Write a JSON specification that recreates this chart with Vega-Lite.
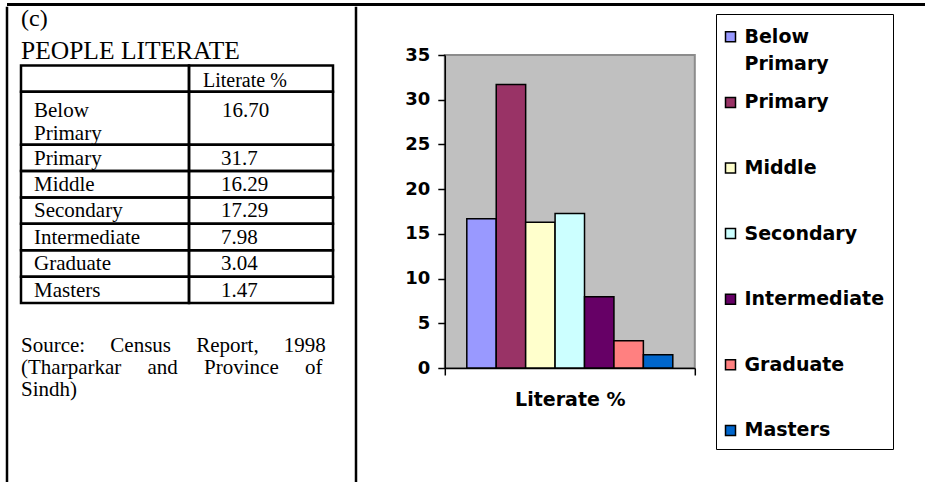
{
  "$schema": "https://vega.github.io/schema/vega-lite/v6.json",
  "background": "white",
  "padding": {"left": 5, "top": 3, "right": 0, "bottom": 0},
  "spacing": 0,
  "config": {
    "view": {"stroke": null},
    "style": {"guide-label": {"lineHeight": 27}}
  },
  "datasets": {
    "levels": [
      {"measure": "Literate %", "level": "Below Primary", "value": 16.70, "shown": "16.70", "line": 1, "lineEnd": 3},
      {"measure": "Literate %", "level": "Primary", "value": 31.7, "shown": "31.7", "line": 3, "lineEnd": 4},
      {"measure": "Literate %", "level": "Middle", "value": 16.29, "shown": "16.29", "line": 4, "lineEnd": 5},
      {"measure": "Literate %", "level": "Secondary", "value": 17.29, "shown": "17.29", "line": 5, "lineEnd": 6},
      {"measure": "Literate %", "level": "Intermediate", "value": 7.98, "shown": "7.98", "line": 6, "lineEnd": 7},
      {"measure": "Literate %", "level": "Graduate", "value": 3.04, "shown": "3.04", "line": 7, "lineEnd": 8},
      {"measure": "Literate %", "level": "Masters", "value": 1.47, "shown": "1.47", "line": 8, "lineEnd": 9}
    ]
  },
  "vconcat": [
    {
      "width": 920,
      "height": 3,
      "view": {"fill": "black", "stroke": null},
      "data": {"values": []},
      "mark": "point",
      "encoding": {}
    },
    {
      "spacing": 44.8,
      "hconcat": [
        {
          "width": 349,
          "height": 473.5,
          "resolve": {"scale": {"x": "independent"}},
          "layer": [
            {
              "data": {"values": [{}]},
              "mark": {"type": "rule", "color": "black", "strokeWidth": 2.5, "strokeCap": "square"},
              "encoding": {"x": {"datum": 0, "type": "quantitative", "scale": {"domain": [0, 1], "nice": false, "zero": false}, "axis": null}}
            },
            {
              "data": {"values": [{}]},
              "mark": {"type": "rule", "color": "black", "strokeWidth": 2.5, "strokeCap": "square"},
              "encoding": {"x": {"datum": 1, "type": "quantitative", "scale": {"domain": [0, 1], "nice": false, "zero": false}, "axis": null}}
            },
            {
              "data": {"values": [{"line": 0, "lineEnd": 1}]},
              "mark": {"type": "rect", "fillOpacity": 0, "stroke": "black", "strokeWidth": 2.5},
              "encoding": {
                "x": {"datum": "label", "type": "nominal", "scale": {"type": "band", "domain": ["label"], "range": [14, 182], "paddingInner": 0, "paddingOuter": 0}, "axis": null},
                "y": {"field": "line", "type": "quantitative", "scale": {"domain": [-2.176, 15.76], "reverse": true, "nice": false, "zero": false}, "axis": null},
                "y2": {"field": "lineEnd"}
              }
            },
            {
              "data": {"values": [{"line": 0, "lineEnd": 1}]},
              "mark": {"type": "rect", "fillOpacity": 0, "stroke": "black", "strokeWidth": 2.5},
              "encoding": {
                "x": {"datum": "value", "type": "nominal", "scale": {"type": "band", "domain": ["value"], "range": [182, 326], "paddingInner": 0, "paddingOuter": 0}, "axis": null},
                "y": {"field": "line", "type": "quantitative", "scale": {"domain": [-2.176, 15.76], "reverse": true, "nice": false, "zero": false}, "axis": null},
                "y2": {"field": "lineEnd"}
              }
            },
            {
              "data": {"name": "levels"},
              "mark": {"type": "rect", "fillOpacity": 0, "stroke": "black", "strokeWidth": 2.5},
              "encoding": {
                "x": {"datum": "label", "type": "nominal", "scale": {"type": "band", "domain": ["label"], "range": [14, 182], "paddingInner": 0, "paddingOuter": 0}, "axis": null},
                "y": {"field": "line", "type": "quantitative", "scale": {"domain": [-2.176, 15.76], "reverse": true, "nice": false, "zero": false}, "axis": null},
                "y2": {"field": "lineEnd"}
              }
            },
            {
              "data": {"name": "levels"},
              "mark": {"type": "rect", "fillOpacity": 0, "stroke": "black", "strokeWidth": 2.5},
              "encoding": {
                "x": {"datum": "value", "type": "nominal", "scale": {"type": "band", "domain": ["value"], "range": [182, 326], "paddingInner": 0, "paddingOuter": 0}, "axis": null},
                "y": {"field": "line", "type": "quantitative", "scale": {"domain": [-2.176, 15.76], "reverse": true, "nice": false, "zero": false}, "axis": null},
                "y2": {"field": "lineEnd"}
              }
            },
            {
              "data": {"values": [{"line": 0, "text": "Literate %"}]},
              "mark": {"type": "text", "font": "Liberation Serif", "fontSize": 20, "align": "left", "baseline": "alphabetic", "dx": 14, "dy": 22, "color": "black"},
              "encoding": {
                "x": {"datum": "value", "type": "nominal", "bandPosition": 0, "scale": {"type": "band", "domain": ["value"], "range": [182, 326], "paddingInner": 0, "paddingOuter": 0}, "axis": null},
                "y": {"field": "line", "type": "quantitative", "scale": {"domain": [-2.176, 15.76], "reverse": true, "nice": false, "zero": false}, "axis": null},
                "text": {"field": "text"}
              }
            },
            {
              "data": {"name": "levels"},
              "transform": [{"filter": "datum.lineEnd - datum.line <= 1"}],
              "mark": {"type": "text", "font": "Liberation Serif", "fontSize": 21, "align": "left", "baseline": "alphabetic", "dx": 13, "dy": 20, "color": "black"},
              "encoding": {
                "x": {"datum": "label", "type": "nominal", "bandPosition": 0, "scale": {"type": "band", "domain": ["label"], "range": [14, 182], "paddingInner": 0, "paddingOuter": 0}, "axis": null},
                "y": {"field": "line", "type": "quantitative", "scale": {"domain": [-2.176, 15.76], "reverse": true, "nice": false, "zero": false}, "axis": null},
                "text": {"field": "level"}
              }
            },
            {
              "data": {"name": "levels"},
              "transform": [{"filter": "datum.lineEnd - datum.line > 1"}],
              "mark": {"type": "text", "font": "Liberation Serif", "fontSize": 21, "align": "left", "baseline": "alphabetic", "dx": 13, "dy": 25, "lineBreak": " ", "lineHeight": 23, "color": "black"},
              "encoding": {
                "x": {"datum": "label", "type": "nominal", "bandPosition": 0, "scale": {"type": "band", "domain": ["label"], "range": [14, 182], "paddingInner": 0, "paddingOuter": 0}, "axis": null},
                "y": {"field": "line", "type": "quantitative", "scale": {"domain": [-2.176, 15.76], "reverse": true, "nice": false, "zero": false}, "axis": null},
                "text": {"field": "level"}
              }
            },
            {
              "data": {"name": "levels"},
              "transform": [{"filter": "datum.lineEnd - datum.line <= 1"}],
              "mark": {"type": "text", "font": "Liberation Serif", "fontSize": 21, "align": "left", "baseline": "alphabetic", "dx": 32, "dy": 20, "color": "black"},
              "encoding": {
                "x": {"datum": "value", "type": "nominal", "bandPosition": 0, "scale": {"type": "band", "domain": ["value"], "range": [182, 326], "paddingInner": 0, "paddingOuter": 0}, "axis": null},
                "y": {"field": "line", "type": "quantitative", "scale": {"domain": [-2.176, 15.76], "reverse": true, "nice": false, "zero": false}, "axis": null},
                "text": {"field": "shown"}
              }
            },
            {
              "data": {"name": "levels"},
              "transform": [{"filter": "datum.lineEnd - datum.line > 1"}],
              "mark": {"type": "text", "font": "Liberation Serif", "fontSize": 21, "align": "left", "baseline": "alphabetic", "dx": 33, "dy": 25, "color": "black"},
              "encoding": {
                "x": {"datum": "value", "type": "nominal", "bandPosition": 0, "scale": {"type": "band", "domain": ["value"], "range": [182, 326], "paddingInner": 0, "paddingOuter": 0}, "axis": null},
                "y": {"field": "line", "type": "quantitative", "scale": {"domain": [-2.176, 15.76], "reverse": true, "nice": false, "zero": false}, "axis": null},
                "text": {"field": "shown"}
              }
            },
            {
              "data": {"values": [{"line": -2, "text": "(c)"}]},
              "mark": {"type": "text", "font": "Liberation Serif", "fontSize": 24, "align": "left", "baseline": "alphabetic", "dx": 0, "dy": 13, "color": "black"},
              "encoding": {
                "x": {"datum": "label", "type": "nominal", "bandPosition": 0, "scale": {"type": "band", "domain": ["label"], "range": [14, 182], "paddingInner": 0, "paddingOuter": 0}, "axis": null},
                "y": {"field": "line", "type": "quantitative", "scale": {"domain": [-2.176, 15.76], "reverse": true, "nice": false, "zero": false}, "axis": null},
                "text": {"field": "text"}
              }
            },
            {
              "data": {"values": [{"line": -1, "text": "PEOPLE LITERATE"}]},
              "mark": {"type": "text", "font": "Liberation Serif", "fontSize": 25.5, "align": "left", "baseline": "alphabetic", "dx": 0, "dy": 19.5, "color": "black"},
              "encoding": {
                "x": {"datum": "label", "type": "nominal", "bandPosition": 0, "scale": {"type": "band", "domain": ["label"], "range": [14, 182], "paddingInner": 0, "paddingOuter": 0}, "axis": null},
                "y": {"field": "line", "type": "quantitative", "scale": {"domain": [-2.176, 15.76], "reverse": true, "nice": false, "zero": false}, "axis": null},
                "text": {"field": "text"}
              }
            },
            {
              "data": {"values": [{"line": 10, "text": "Source:\u00a0\u00a0\u00a0\u00a0\u2009Census\u00a0\u00a0\u00a0\u00a0\u2009Report,\u00a0\u00a0\u00a0\u00a0\u20091998\n(Tharparkar\u00a0\u00a0\u00a0\u00a0\u00a0and\u00a0\u00a0\u00a0\u00a0\u00a0Province\u00a0\u00a0\u00a0\u00a0\u00a0of\nSindh)"}]},
              "mark": {"type": "text", "font": "Liberation Serif", "fontSize": 21, "align": "left", "baseline": "alphabetic", "dx": 0, "dy": 23, "lineBreak": "\n", "lineHeight": 22, "color": "black"},
              "encoding": {
                "x": {"datum": "label", "type": "nominal", "bandPosition": 0, "scale": {"type": "band", "domain": ["label"], "range": [14, 182], "paddingInner": 0, "paddingOuter": 0}, "axis": null},
                "y": {"field": "line", "type": "quantitative", "scale": {"domain": [-2.176, 15.76], "reverse": true, "nice": false, "zero": false}, "axis": null},
                "text": {"field": "text"}
              }
            }
          ]
        },
        {
          "spacing": 0,
          "vconcat": [
            {
              "width": 1,
              "height": 37,
              "data": {"values": []},
              "mark": "point",
              "encoding": {}
            },
            {
              "width": 250,
              "height": 313,
              "view": {"fill": "#C0C0C0", "stroke": "#8C8C8C", "strokeWidth": 2},
              "data": {"name": "levels"},
              "mark": {"type": "bar", "stroke": "black", "strokeWidth": 1.5},
              "encoding": {
                "x": {
                  "field": "measure", "type": "nominal",
                  "scale": {"paddingInner": 0, "paddingOuter": 0},
                  "axis": {"title": null, "labelAngle": 0, "ticks": true, "tickBand": "extent", "tickSize": 7, "tickColor": "black", "tickWidth": 1.5, "labelPadding": 15.5, "labelFont": "DejaVu Sans", "labelFontWeight": "bold", "labelFontSize": 19, "labelColor": "black", "domainColor": "black", "domainWidth": 1.5}
                },
                "xOffset": {
                  "field": "level", "type": "nominal",
                  "sort": ["Below Primary", "Primary", "Middle", "Secondary", "Intermediate", "Graduate", "Masters"],
                  "scale": {"paddingInner": 0, "paddingOuter": 0.7475}
                },
                "y": {
                  "field": "value", "type": "quantitative",
                  "scale": {"domain": [0, 35], "nice": false},
                  "axis": {"title": null, "values": [0, 5, 10, 15, 20, 25, 30, 35], "grid": false, "tickSize": 7, "tickColor": "black", "tickWidth": 1.5, "domainColor": "black", "domainWidth": 1.5, "labelPadding": 8, "labelFont": "DejaVu Sans", "labelFontWeight": "bold", "labelFontSize": 18, "labelColor": "black"}
                },
                "color": {
                  "field": "level", "type": "nominal",
                  "scale": {
                    "domain": ["Below Primary", "Primary", "Middle", "Secondary", "Intermediate", "Graduate", "Masters"],
                    "range": ["#9999FF", "#993366", "#FFFFCC", "#CCFFFF", "#660066", "#FF8080", "#0066CC"]
                  },
                  "legend": {
                    "title": "\u00a0",
                    "titleFont": "DejaVu Sans",
                    "titleFontSize": 4,
                    "titlePadding": 1.3,
                    "orient": "none",
                    "legendX": 709,
                    "legendY": 11,
                    "direction": "vertical",
                    "strokeColor": "black",
                    "fillColor": "white",
                    "padding": 8,
                    "symbolType": "square",
                    "symbolSize": 100,
                    "symbolStrokeColor": "black",
                    "symbolStrokeWidth": 1.5,
                    "symbolOffset": -3,
                    "labelOffset": 4.5,
                    "labelFont": "DejaVu Sans",
                    "labelFontWeight": "bold",
                    "labelFontSize": 19,
                    "labelColor": "black",
                    "labelLimit": 300,
                    "rowPadding": 18.6,
                    "gridAlign": "all",
                    "labelExpr": "datum.label == 'Below Primary' ? ['Below', 'Primary'] : datum.label"
                  }
                }
              }
            }
          ]
        }
      ]
    }
  ]
}
